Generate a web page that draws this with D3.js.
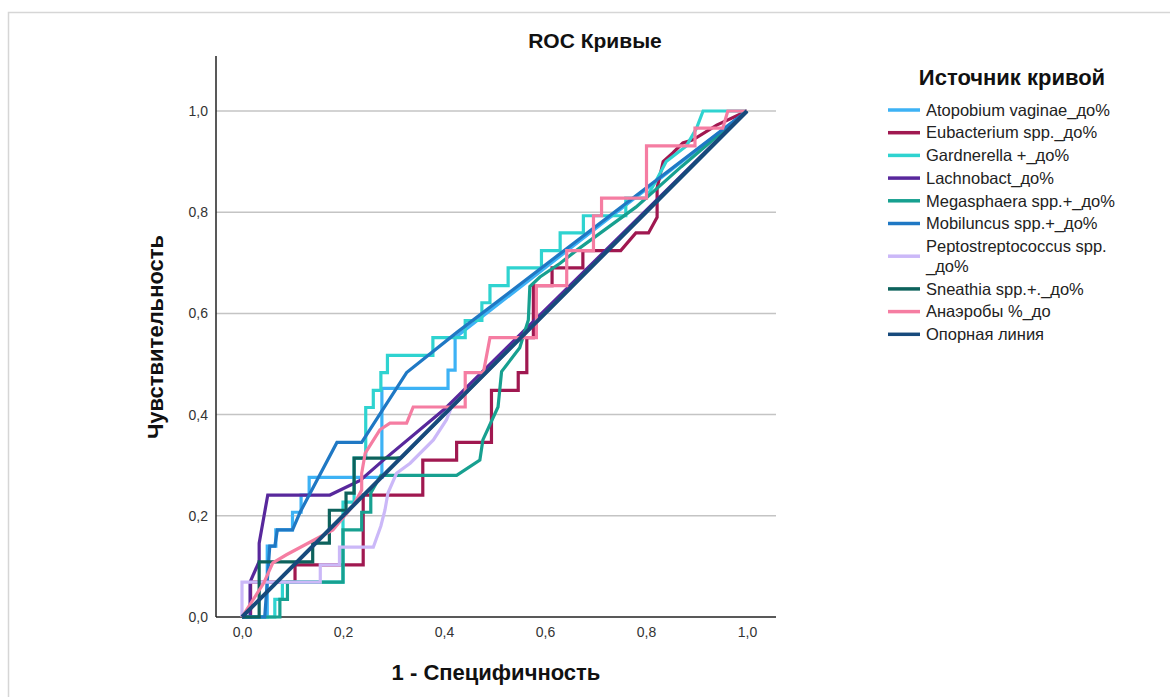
<!DOCTYPE html>
<html><head><meta charset="utf-8">
<script src="https://cdn.jsdelivr.net/npm/d3@7"></script>
<style>body{margin:0;background:#fff}svg{display:block}text{font-family:"Liberation Sans",Arial,sans-serif}</style>
</head><body><svg id="c" width="1170" height="697"></svg>
<script>
const xTicks = [0, 0.2, 0.4, 0.6, 0.8, 1.0];
const yTicks = [0, 0.2, 0.4, 0.6, 0.8, 1.0];
const seriesNames = ["Atopobium vaginae_до%","Eubacterium spp._до%","Gardnerella +_до%","Lachnobact_до%","Megasphaera spp.+_до%","Mobiluncus spp.+_до%","Peptostreptococcus spp.\n_до%","Sneathia spp.+._до%","Анаэробы %_до","Опорная линия"];
const seriesColors = ["#3db2f5","#a01850","#2fd3d0","#58289c","#17a090","#1f78c4","#cbb8f8","#0d625c","#f57da2","#174a7c"];

const atopobium = [[0,0],[0.05,0],[0.05,0.14],[0.067,0.14],[0.067,0.172],[0.1,0.172],[0.1,0.207],[0.117,0.207],[0.117,0.241],[0.133,0.241],[0.133,0.276],[0.2,0.276],[0.277,0.276],[0.277,0.452],[0.408,0.452],[0.408,0.488],[0.422,0.488],[0.422,0.552],[1,1]];
const eubacterium = [[0,0],[0.017,0],[0.017,0.069],[0.105,0.069],[0.105,0.103],[0.24,0.103],[0.24,0.241],[0.358,0.241],[0.358,0.31],[0.425,0.31],[0.425,0.345],[0.494,0.345],[0.494,0.448],[0.547,0.448],[0.547,0.483],[0.564,0.483],[0.564,0.552],[0.577,0.552],[0.577,0.655],[0.614,0.655],[0.614,0.69],[0.675,0.69],[0.675,0.724],[0.75,0.724],[0.78,0.759],[0.805,0.759],[0.822,0.79],[0.822,0.848],[0.834,0.9],[0.853,0.917],[0.873,0.937],[0.893,0.943],[0.94,0.972],[1,1]];
const gardnerella = [[0,0],[0.065,0],[0.065,0.035],[0.08,0.035],[0.08,0.069],[0.2,0.069],[0.2,0.227],[0.222,0.227],[0.222,0.314],[0.245,0.314],[0.245,0.414],[0.26,0.414],[0.26,0.448],[0.275,0.448],[0.275,0.483],[0.288,0.483],[0.288,0.517],[0.378,0.517],[0.378,0.552],[0.442,0.552],[0.442,0.586],[0.475,0.586],[0.475,0.621],[0.491,0.621],[0.491,0.655],[0.527,0.655],[0.527,0.69],[0.593,0.69],[0.593,0.724],[0.63,0.724],[0.63,0.759],[0.676,0.759],[0.676,0.793],[0.76,0.793],[0.76,0.828],[0.8,0.828],[0.82,0.862],[0.84,0.9],[0.88,0.931],[0.9,0.966],[0.913,1],[1,1]];
const lachnobact = [[0,0],[0.016,0],[0.016,0.069],[0.034,0.11],[0.034,0.146],[0.051,0.241],[0.174,0.241],[0.234,0.27],[0.28,0.31],[0.4,0.41],[1,1]];
const megasphaera = [[0,0],[0.075,0],[0.075,0.035],[0.09,0.035],[0.09,0.069],[0.2,0.069],[0.2,0.172],[0.237,0.172],[0.237,0.207],[0.255,0.207],[0.255,0.245],[0.275,0.28],[0.425,0.28],[0.471,0.31],[0.477,0.35],[0.507,0.415],[0.514,0.485],[0.55,0.532],[0.567,0.587],[0.57,0.653],[0.59,0.672],[0.63,0.699],[0.663,0.725],[0.78,0.81],[0.87,0.89],[1,1]];
const mobiluncus = [[0,0],[0.045,0],[0.055,0.14],[0.065,0.14],[0.07,0.172],[0.1,0.172],[0.115,0.207],[0.188,0.345],[0.237,0.345],[0.326,0.483],[0.425,0.562],[1,1]];
const peptostreptococcus = [[0,0],[0,0.069],[0.155,0.069],[0.155,0.103],[0.193,0.103],[0.193,0.138],[0.26,0.138],[0.275,0.18],[0.283,0.211],[0.289,0.245],[0.306,0.284],[0.333,0.304],[0.379,0.35],[0.405,0.39],[0.415,0.415],[1,1]];
const sneathia = [[0,0],[0.034,0],[0.034,0.109],[0.14,0.109],[0.14,0.146],[0.173,0.146],[0.173,0.211],[0.206,0.211],[0.206,0.245],[0.222,0.245],[0.222,0.314],[0.305,0.314],[0.315,0.315],[1,1]];
const anaerobes = [[0,0],[0.043,0.067],[0.061,0.107],[0.088,0.123],[0.18,0.172],[0.22,0.22],[0.237,0.251],[0.237,0.284],[0.244,0.324],[0.273,0.37],[0.293,0.383],[0.326,0.383],[0.339,0.415],[0.442,0.415],[0.442,0.483],[0.478,0.483],[0.491,0.552],[0.583,0.552],[0.583,0.655],[0.643,0.655],[0.643,0.724],[0.696,0.724],[0.696,0.793],[0.712,0.793],[0.712,0.828],[0.801,0.828],[0.801,0.931],[0.897,0.931],[0.897,0.966],[0.952,0.966],[0.962,1],[1,1]];
const reference = [[0,0],[1,1]];
const seriesData = [atopobium, eubacterium, gardnerella, lachnobact, megasphaera, mobiluncus, peptostreptococcus, sneathia, anaerobes, reference];

const svg = d3.select("#c");
svg.append("rect").attr("x",8.5).attr("y",12.5).attr("width",1200).attr("height",700)
  .attr("fill","none").attr("stroke","#d6d6d6").attr("stroke-width",1.5);

const x = d3.scaleLinear().domain([0,1]).range([242,747]);
const y = d3.scaleLinear().domain([0,1]).range([617,111]);
const plotL = 216, plotR = 776, plotT = 56, plotB = 617;
const fmt = v => d3.format(".1f")(v).replace(".", ",");

// gridlines
svg.append("g").selectAll("line").data(yTicks.filter(d=>d>0)).join("line")
  .attr("x1",plotL).attr("x2",plotR).attr("y1",d=>y(d)).attr("y2",d=>y(d))
  .attr("stroke","#c4c4c4").attr("stroke-width",1.5);

// axes
const gx = svg.append("g").attr("transform",`translate(0,${plotB})`)
  .call(d3.axisBottom(x).tickValues(xTicks).tickFormat(fmt).tickSize(0).tickPadding(10));
gx.select(".domain").remove();
gx.selectAll("text").attr("font-size",14).attr("fill","#333");
const gy = svg.append("g").attr("transform",`translate(${plotL},0)`)
  .call(d3.axisLeft(y).tickValues(yTicks).tickFormat(fmt).tickSize(0).tickPadding(8));
gy.select(".domain").remove();
gy.selectAll("text").attr("font-size",14).attr("fill","#333");

svg.append("line").attr("x1",plotL).attr("x2",plotL).attr("y1",plotT).attr("y2",plotB).attr("stroke","#222").attr("stroke-width",1.5);
svg.append("line").attr("x1",plotL).attr("x2",plotR).attr("y1",plotB).attr("y2",plotB).attr("stroke","#222").attr("stroke-width",1.5);

// curves
const line = d3.line().x(d=>x(d[0])).y(d=>y(d[1]));
svg.append("g").selectAll("path").data(seriesData).join("path")
  .attr("d", line).attr("fill","none")
  .attr("stroke",(d,i)=>seriesColors[i])
  .attr("stroke-width",(d,i)=> i===seriesData.length-1 ? 4 : 3.2)
  .attr("stroke-linejoin","miter");

// titles
svg.append("text").attr("x",595).attr("y",48).attr("text-anchor","middle")
  .attr("font-size",21).attr("font-weight","bold").attr("fill","#111").text("ROC Кривые");
svg.append("text").attr("x",496).attr("y",680).attr("text-anchor","middle")
  .attr("font-size",22).attr("font-weight","bold").attr("fill","#111").text("1 - Специфичность");
svg.append("text").attr("transform","translate(163,337) rotate(-90)").attr("text-anchor","middle")
  .attr("font-size",22).attr("font-weight","bold").attr("fill","#111").text("Чувствительность");

// legend
const lg = svg.append("g");
lg.append("text").attr("x",1012).attr("y",85).attr("text-anchor","middle")
  .attr("font-size",22).attr("font-weight","bold").attr("fill","#111").text("Источник кривой");
let ly = 110;
seriesNames.forEach((name,i)=>{
  const lines = name.split("\n");
  const sy = ly + (lines.length-1)*10;
  lg.append("line").attr("x1",888).attr("x2",920).attr("y1",sy).attr("y2",sy)
    .attr("stroke",seriesColors[i]).attr("stroke-width",3.5);
  lines.forEach((t,k)=>{
    lg.append("text").attr("x",926).attr("y",ly + k*20).attr("dy","0.35em")
      .attr("font-size",16.5).attr("fill","#222").text(t);
  });
  ly += 22.7 + (lines.length-1)*20;
});
</script></body></html>
